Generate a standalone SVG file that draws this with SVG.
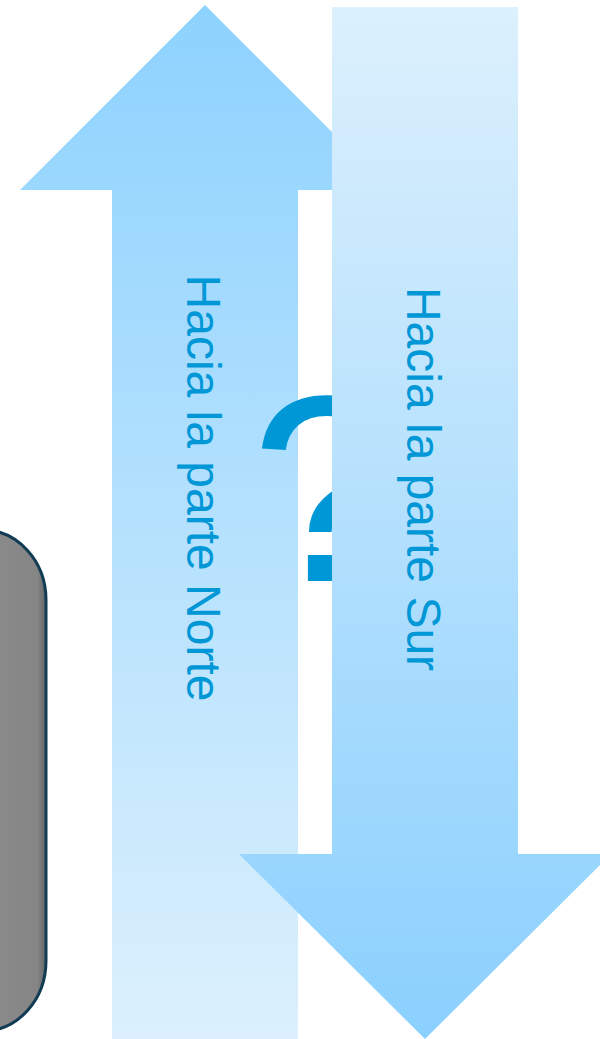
<svg xmlns="http://www.w3.org/2000/svg" width="600" height="1039" viewBox="0 0 600 1039">
  <defs>
    <linearGradient id="gUp" gradientUnits="userSpaceOnUse" x1="0" y1="5" x2="0" y2="1039">
      <stop offset="0" stop-color="#8dd2fe"/>
      <stop offset="1" stop-color="#dcf0fd"/>
    </linearGradient>
    <linearGradient id="gDown" gradientUnits="userSpaceOnUse" x1="0" y1="7" x2="0" y2="1039">
      <stop offset="0" stop-color="#dcf0fd"/>
      <stop offset="1" stop-color="#8bd0fe"/>
    </linearGradient>
    <linearGradient id="gGray" gradientUnits="userSpaceOnUse" x1="0" y1="0" x2="47" y2="0">
      <stop offset="0" stop-color="#8a8a8a"/>
      <stop offset="0.8" stop-color="#858585"/>
      <stop offset="1" stop-color="#5e6264"/>
    </linearGradient>
  </defs>
  <style>
    .lbl { font-family: "Liberation Sans", Arial, sans-serif; font-size: 48px; fill: #0097d7; }
    .q { font-family: "Liberation Sans", Arial, sans-serif; font-size: 266px; fill: #0097d7; }
  </style>

  <g id="panel">
    <rect x="-80" y="530" width="126" height="501" rx="70" ry="70" fill="url(#gGray)" stroke="#123c54" stroke-width="3"/>
  </g>

  <g id="arrow-north">
    <polygon points="205,5 390,190 298,190 298,1039 112,1039 112,190 20,190" fill="url(#gUp)"/>
    <text class="lbl" transform="translate(187,488) rotate(90)" text-anchor="middle">Hacia la parte Norte</text>
  </g>

  <g id="question">
    <text class="q" x="251" y="581">?</text>
  </g>

  <g id="arrow-south">
    <polygon points="332,7 518,7 518,854 611,854 425,1039 239,854 332,854" fill="url(#gDown)"/>
    <text class="lbl" transform="translate(407,479) rotate(90)" text-anchor="middle">Hacia la parte Sur</text>
  </g>

  <g id="connectors"/>
</svg>
